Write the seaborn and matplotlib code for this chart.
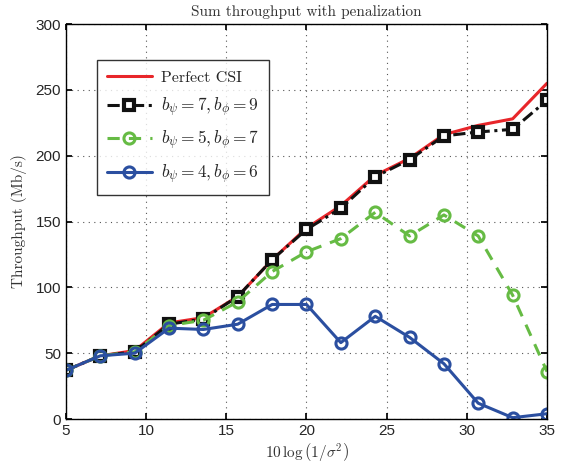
import matplotlib
matplotlib.use("Agg")
import matplotlib.pyplot as plt
import seaborn as sns
import numpy as np
import pandas as pd

snr_db = [5, 7.14, 9.29, 11.43, 13.57, 15.71, 17.86, 20, 22.14, 24.29, 26.43, 28.57, 30.71, 32.86, 35]
perfect_csi = [37, 48, 52, 73, 77, 93, 121, 145, 162, 185, 198, 216, 223, 228, 255]
b7_9 = [37, 48, 51, 72, 76, 93, 121, 144, 160, 184, 197, 215, 218, 220, 242]
b5_7 = [37, 48, 51, 71, 75, 89, 112, 127, 137, 157, 139, 155, 139, 94, 36]
b4_6 = [37, 48, 50, 69, 68, 72, 87, 87, 58, 78, 62, 42, 12, 1, 4]

labels = ["Perfect CSI", r"$b_\psi=7,b_\phi=9$", r"$b_\psi=5,b_\phi=7$", r"$b_\psi=4,b_\phi=6$"]
title = "Sum throughput with penalization"
xlabel = r"$10\,\log\left(1/\sigma^2\right)$"
ylabel = "Throughput (Mb/s)"

sns.set_theme(style="ticks")
plt.rcParams["font.family"] = ["Liberation Sans", "DejaVu Sans"]
plt.rcParams["mathtext.fontset"] = "cm"

fig = plt.figure(figsize=(5.62, 4.69), dpi=100)
ax = fig.add_axes([0.1174, 0.1066, 0.8559, 0.8422])

styles = [
    dict(color="#e8262a", linestyle="-", lw=2.2, marker=None),
    dict(color="#111111", linestyle=(0, (4, 1.5, 1, 1.5)), lw=2.2, marker="s", ms=7,
         mfc="white", mec="#111111", mew=3.0),
    dict(color="#66bb44", linestyle=(0, (4, 3)), lw=2.2, marker="o", ms=8,
         mfc="none", mec="#66bb44", mew=2.2),
    dict(color="#2b4fa0", linestyle="-", lw=2.2, marker="o", ms=8,
         mfc="none", mec="#2b4fa0", mew=2.2),
]
series = [perfect_csi, b7_9, b5_7, b4_6]
for vals, lab, st in zip(series, labels, styles):
    df = pd.DataFrame({"x": snr_db, "y": vals})
    kw = dict(color=st["color"], linestyle=st["linestyle"], linewidth=st["lw"])
    if st["marker"]:
        kw.update(marker=st["marker"], markersize=st["ms"], markerfacecolor=st["mfc"],
                  markeredgecolor=st["mec"], markeredgewidth=st["mew"])
    sns.lineplot(data=df, x="x", y="y", ax=ax, label=lab, **kw)

ax.set_xlim(5, 35)
ax.set_ylim(0, 300)
ax.set_xticks([5, 10, 15, 20, 25, 30, 35])
ax.set_yticks([0, 50, 100, 150, 200, 250, 300])
ax.grid(True, linestyle=(0, (1, 4)), color="#555555", linewidth=0.8)
ax.tick_params(direction="in", top=True, right=True, labelsize=11, length=4, color="black")
for s in ax.spines.values():
    s.set_color("black")
    s.set_linewidth(1.0)

ax.set_title(title, family="cmr10", fontsize=11, color="#333333", pad=6)
ax.set_xlabel(xlabel, fontsize=11, color="#333333", labelpad=2)
ax.set_ylabel(ylabel, family="cmr10", fontsize=11, color="#333333", labelpad=6)

leg = ax.legend(loc="upper left", bbox_to_anchor=(0.047, 0.93), fontsize=12.5,
                frameon=True, fancybox=False, edgecolor="black", handlelength=2.6,
                borderpad=0.55, labelspacing=0.6, handletextpad=0.5)
leg.get_frame().set_linewidth(1.0)
for t in leg.get_texts():
    t.set_family("cmr10")
leg.get_texts()[0].set_fontsize(11.5)

fig.savefig("out.png", dpi=100)
